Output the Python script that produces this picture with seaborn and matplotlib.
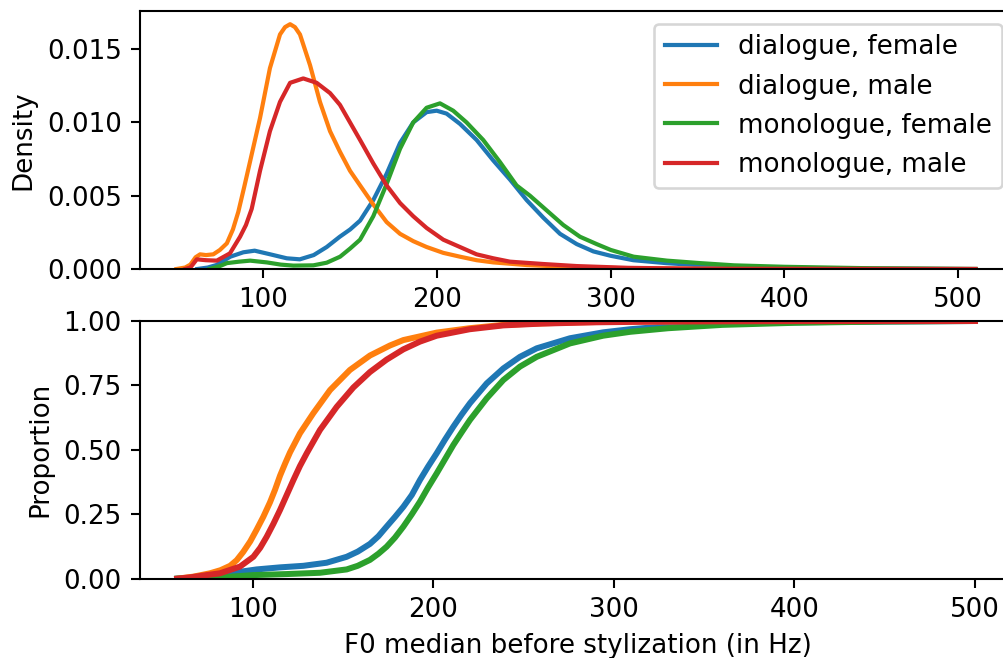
import pandas as pd
import matplotlib
matplotlib.use("Agg")
import matplotlib.pyplot as plt
import seaborn as sns

# series names and colours (tab10 order)
SERIES = ["dialogue, female", "dialogue, male", "monologue, female", "monologue, male"]
COLORS = ["#1f77b4", "#ff7f0e", "#2ca02c", "#d62728"]

# --- density curves (x in Hz, y density) ---
kde_x_dlg_f = [62, 68, 73, 81, 88.5, 95, 104, 113.5, 121, 129, 136.5, 144, 150, 155.7, 163.3, 171, 178.7,
               186.3, 194, 199.8, 205.5, 213.2, 222.8, 232.4, 242, 251.6, 261.2, 270.8, 280.4, 290, 300,
               313, 332, 352, 371, 400, 450, 510]
kde_y_dlg_f = [0, 0.0001, 0.00027, 0.00084, 0.00114, 0.00125, 0.001, 0.00073, 0.00066, 0.00095, 0.0015,
               0.0022, 0.0027, 0.0033, 0.0047, 0.0065, 0.0086, 0.0100, 0.0107, 0.0108, 0.0106, 0.0099,
               0.0088, 0.0074, 0.0061, 0.0047, 0.0035, 0.0024, 0.0017, 0.0012, 0.0009, 0.0006, 0.0004,
               0.00025, 0.00016, 0.00008, 0.00003, 0]

kde_x_dlg_m = [50, 55, 58, 61, 63.6, 67, 71.2, 75, 79, 82.5, 85.6, 89, 92.3, 98.1, 103.8, 109.6, 112.5,
               115.4, 118.2, 121.1, 126.9, 132.6, 138.4, 144.1, 149.9, 155.7, 163.3, 171, 178.7, 186.3,
               194, 203.6, 213.2, 222.8, 232.4, 251.6, 280.4, 310, 350, 510]
kde_y_dlg_m = [0, 0.0001, 0.0003, 0.0008, 0.001, 0.00095, 0.001, 0.0013, 0.00175, 0.0027, 0.0039, 0.0056,
               0.0073, 0.0103, 0.0137, 0.0160, 0.0165, 0.0167, 0.0165, 0.0160, 0.0139, 0.0114, 0.0094,
               0.0080, 0.0067, 0.0057, 0.0044, 0.0032, 0.0024, 0.0019, 0.0015, 0.0011, 0.00084, 0.0006,
               0.00045, 0.00027, 0.00012, 0.00005, 0.00002, 0]

kde_x_mon_f = [69, 75, 79, 86, 92.4, 102, 110, 117.3, 128.8, 136.5, 144.2, 150, 155.7, 163.3, 171, 178.7,
               186.3, 194, 201.7, 209.3, 217, 226.6, 236.2, 245.8, 253.5, 263.1, 272.7, 282.3, 291.9,
               300, 313.2, 332.4, 351.6, 371, 400, 450, 510]
kde_y_mon_f = [0, 0.0002, 0.0004, 0.0005, 0.00057, 0.00045, 0.0003, 0.00023, 0.00025, 0.00043, 0.00084,
               0.0014, 0.0020, 0.0036, 0.0058, 0.0082, 0.0100, 0.0110, 0.0113, 0.0108, 0.0100, 0.0088,
               0.0073, 0.0057, 0.0050, 0.0040, 0.0030, 0.0022, 0.0017, 0.0013, 0.00084, 0.00057, 0.0004,
               0.00025, 0.00015, 0.00005, 0]

kde_x_mon_m = [55, 58, 61.7, 67, 73.2, 80.8, 86.6, 90, 93.3, 98.1, 103.8, 109.6, 115.4, 123, 130.7, 138.4,
               144.1, 149.9, 155.7, 163.3, 171, 178.7, 186.3, 194, 203.6, 213.2, 222.8, 232.4, 242, 261.2,
               280.4, 310, 350, 510]
kde_y_mon_m = [0, 0.0001, 0.00066, 0.0006, 0.00057, 0.00107, 0.0022, 0.003, 0.0041, 0.0067, 0.0094, 0.0114,
               0.0127, 0.0130, 0.0127, 0.0120, 0.0112, 0.0100, 0.0088, 0.0072, 0.0057, 0.0045, 0.0036,
               0.0028, 0.0020, 0.0015, 0.0010, 0.00073, 0.0005, 0.00034, 0.0002, 0.00008, 0.00002, 0]

# --- cumulative proportion curves ---
ecdf_x_dlg_f = [58, 67, 76.2, 91, 102, 115, 127.9, 140.8, 151.9, 158, 164.8, 169.5, 174, 178.7, 183.3, 188,
                192.5, 197, 201.8, 206.4, 211, 215.6, 220.2, 229.5, 238.7, 247.9, 257.2, 275.6, 294,
                308.9, 330, 360, 400, 450, 500]
ecdf_y_dlg_f = [0, 0.004, 0.01, 0.025, 0.036, 0.044, 0.05, 0.062, 0.085, 0.105, 0.135, 0.165, 0.202, 0.24,
                0.279, 0.325, 0.383, 0.435, 0.487, 0.54, 0.59, 0.637, 0.681, 0.758, 0.816, 0.861, 0.894,
                0.933, 0.956, 0.968, 0.98, 0.99, 0.995, 0.998, 1.0]

ecdf_x_dlg_m = [58, 67, 76.2, 82, 87.3, 91, 94.6, 98.5, 102, 105.7, 109.4, 112.2, 115, 117.8, 120.5, 126,
                133.4, 142.7, 153.7, 164.8, 175.9, 183.3, 201.8, 220, 238.7, 257, 280, 310, 350, 420, 500]
ecdf_y_dlg_m = [0, 0.008, 0.021, 0.033, 0.05, 0.072, 0.104, 0.145, 0.19, 0.24, 0.296, 0.345, 0.40,
                0.447, 0.49, 0.564, 0.642, 0.732, 0.81, 0.866, 0.905, 0.926, 0.955, 0.972, 0.985, 0.99,
                0.995, 0.998, 0.999, 1.0, 1.0]

ecdf_x_mon_f = [58, 81.7, 100.2, 118.7, 137.1, 151.9, 158, 164.8, 169.5, 174, 178.7, 183.3, 188, 192.5,
                197, 201.8, 206.4, 211, 215.6, 220.2, 229.5, 238.7, 247.9, 257.2, 275.6, 294, 308.9, 330,
                360, 400, 450, 500]
ecdf_y_mon_f = [0, 0.005, 0.014, 0.018, 0.023, 0.036, 0.05, 0.073, 0.097, 0.124, 0.16, 0.202, 0.25, 0.299,
                0.354, 0.409, 0.464, 0.519, 0.568, 0.616, 0.70, 0.771, 0.823, 0.861, 0.913, 0.943, 0.958,
                0.972, 0.985, 0.993, 0.998, 1.0]

ecdf_x_mon_m = [58, 65, 81.7, 92.8, 100.2, 104, 107.6, 111.3, 115, 118.7, 122.4, 126, 129.8, 137.1, 146.4,
                155.6, 164.8, 174, 183.3, 192.5, 201.8, 220, 238.7, 260, 290, 330, 400, 500]
ecdf_y_mon_m = [0, 0.005, 0.021, 0.047, 0.085, 0.12, 0.163, 0.213, 0.267, 0.325, 0.383, 0.437, 0.487,
                0.577, 0.667, 0.742, 0.802, 0.850, 0.890, 0.920, 0.943, 0.968, 0.983, 0.99, 0.995, 0.998,
                0.9995, 1.0]

KDE = [(kde_x_dlg_f, kde_y_dlg_f), (kde_x_dlg_m, kde_y_dlg_m),
       (kde_x_mon_f, kde_y_mon_f), (kde_x_mon_m, kde_y_mon_m)]
ECDF = [(ecdf_x_dlg_f, ecdf_y_dlg_f), (ecdf_x_dlg_m, ecdf_y_dlg_m),
        (ecdf_x_mon_f, ecdf_y_mon_f), (ecdf_x_mon_m, ecdf_y_mon_m)]


def long_table(curves):
    frames = []
    for name, (xs, ys) in zip(SERIES, curves):
        frames.append(pd.DataFrame({"x": xs, "y": ys, "group": name}))
    return pd.concat(frames, ignore_index=True)


plt.rcParams["font.size"] = 10
DPI = 188
fig = plt.figure(figsize=(1004 / DPI, 658 / DPI), dpi=DPI)

# axes run a bit past the right edge, as in the cropped original
ax_top = fig.add_axes([140 / 1004, (658 - 269) / 658, 875 / 1004, 258 / 658])
ax_bot = fig.add_axes([140 / 1004, (658 - 578.7) / 658, 875 / 1004, 257.7 / 658])

kde_df = long_table(KDE)
sns.lineplot(data=kde_df, x="x", y="y", hue="group", hue_order=SERIES, palette=COLORS,
             sort=False, estimator=None, linewidth=1.6, ax=ax_top)
ax_top.set_xlim(29, 29 + 875 / 1.737)
ax_top.set_ylim(0, 0.0176)
ax_top.set_xlabel("")
ax_top.set_ylabel("Density")
ax_top.set_xticks([100, 200, 300, 400, 500])
ax_top.set_yticks([0, 0.005, 0.010, 0.015])
ax_top.legend(loc="upper right", title=None)

ecdf_df = long_table(ECDF)
sns.lineplot(data=ecdf_df, x="x", y="y", hue="group", hue_order=SERIES, palette=COLORS,
             sort=False, estimator=None, linewidth=2.3, legend=False, ax=ax_bot)
ax_bot.set_xlim(37.4, 37.4 + 875 / 1.805)
ax_bot.set_ylim(0, 1)
ax_bot.set_xlabel("F0 median before stylization (in Hz)")
ax_bot.set_ylabel("Proportion")
ax_bot.set_xticks([100, 200, 300, 400, 500])
ax_bot.set_yticks([0, 0.25, 0.5, 0.75, 1.0])

fig.savefig("out.png", dpi=DPI)
